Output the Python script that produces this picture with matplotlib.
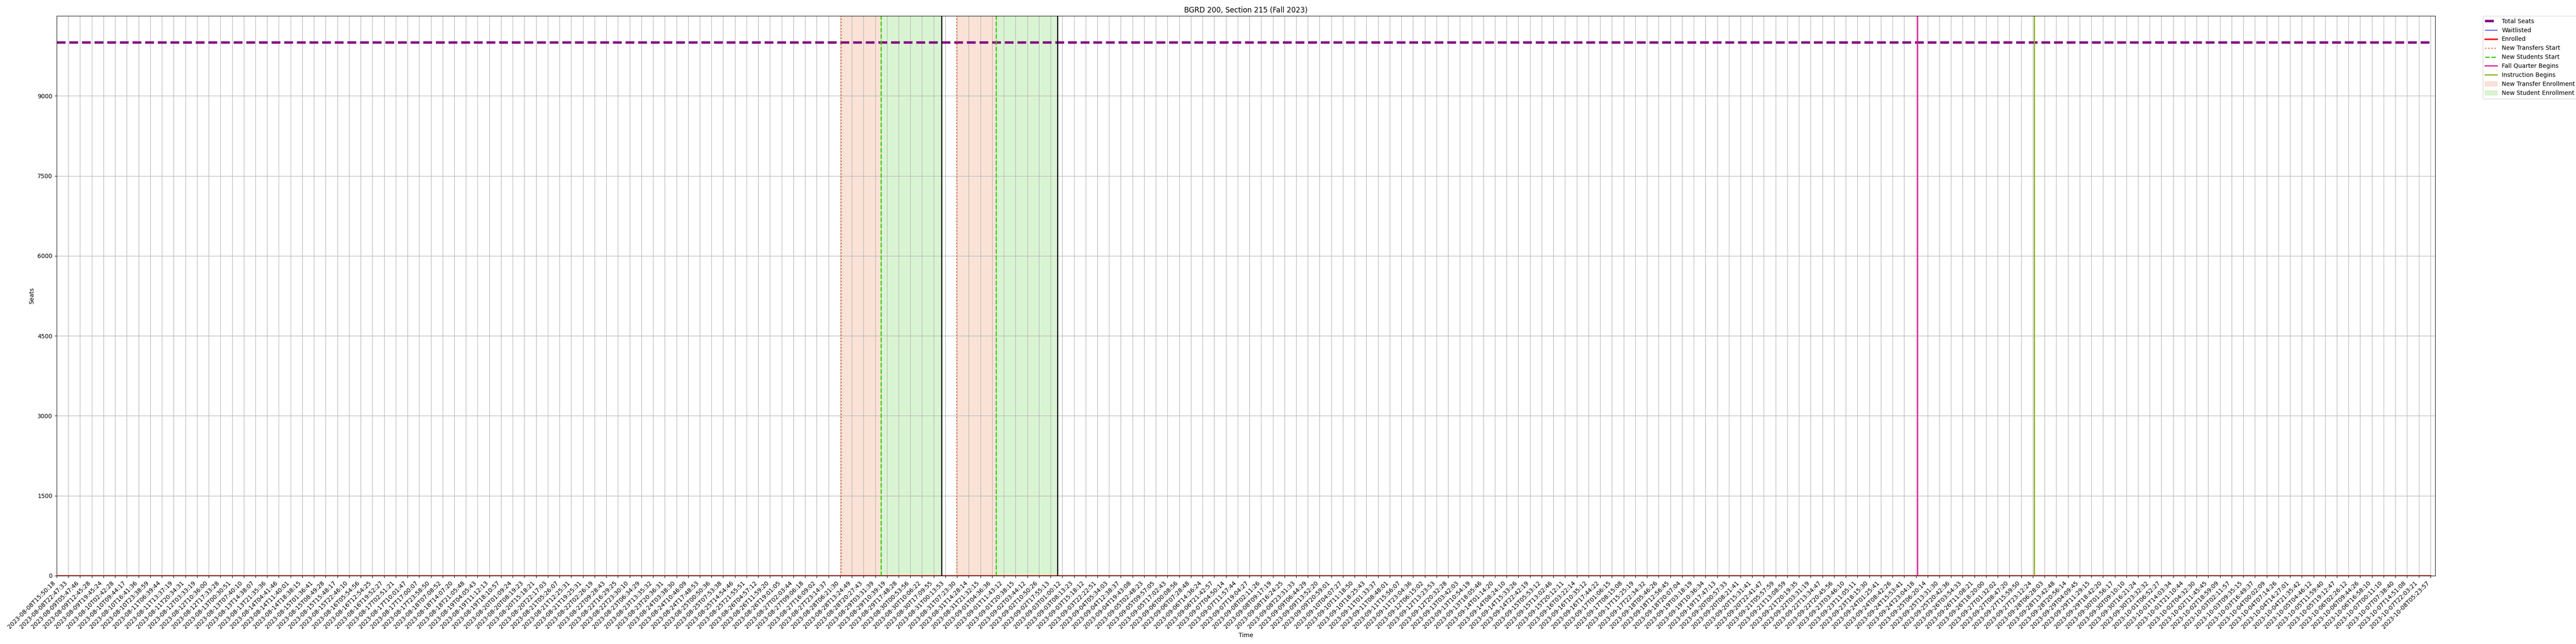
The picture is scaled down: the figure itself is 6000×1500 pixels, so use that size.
# -*- coding: utf-8 -*-

import numpy as np
import pandas as pd
import matplotlib
matplotlib.use('Agg')
import matplotlib.pyplot as plt

title = 'BGRD 200, Section 215 (Fall 2023)'

# snapshot times (one per scrape)
timestamps = [
    '2023-08-08T15:50:18', '2023-08-08T22:47:33', '2023-08-09T05:47:46', '2023-08-09T12:45:28',
    '2023-08-09T19:45:24', '2023-08-10T02:42:28', '2023-08-10T09:44:17', '2023-08-10T16:41:36',
    '2023-08-10T23:38:59', '2023-08-11T06:39:44', '2023-08-11T13:37:19', '2023-08-11T20:34:31',
    '2023-08-12T03:33:19', '2023-08-12T10:36:00', '2023-08-12T17:33:28', '2023-08-13T00:30:51',
    '2023-08-13T07:40:10', '2023-08-13T14:38:07', '2023-08-13T21:35:36', '2023-08-14T04:41:46',
    '2023-08-14T11:40:01', '2023-08-14T18:38:15', '2023-08-15T01:36:41', '2023-08-15T08:49:28',
    '2023-08-15T15:48:17', '2023-08-15T22:46:10', '2023-08-16T05:54:56', '2023-08-16T12:54:25',
    '2023-08-16T19:52:27', '2023-08-17T02:51:21', '2023-08-17T10:01:47', '2023-08-17T17:00:07',
    '2023-08-17T23:58:50', '2023-08-18T07:08:52', '2023-08-18T14:07:20', '2023-08-18T21:05:48',
    '2023-08-19T04:05:43', '2023-08-19T11:12:13', '2023-08-19T18:10:57', '2023-08-20T01:09:24',
    '2023-08-20T08:19:23', '2023-08-20T15:18:21', '2023-08-20T22:17:03', '2023-08-21T05:26:07',
    '2023-08-21T12:25:31', '2023-08-21T19:25:31', '2023-08-22T02:26:19', '2023-08-22T09:28:43',
    '2023-08-22T16:29:25', '2023-08-22T23:30:10', '2023-08-23T06:34:29', '2023-08-23T13:35:32',
    '2023-08-23T20:36:31', '2023-08-24T03:38:30', '2023-08-24T10:46:09', '2023-08-24T17:48:53',
    '2023-08-25T00:50:36', '2023-08-25T07:53:38', '2023-08-25T14:54:46', '2023-08-25T21:55:51',
    '2023-08-26T04:57:12', '2023-08-26T11:59:20', '2023-08-26T19:01:05', '2023-08-27T02:03:44',
    '2023-08-27T09:06:18', '2023-08-27T16:09:02', '2023-08-27T23:14:37', '2023-08-28T06:21:30',
    '2023-08-28T13:24:49', '2023-08-28T20:27:43', '2023-08-29T03:31:39', '2023-08-29T10:39:19',
    '2023-08-29T17:48:28', '2023-08-30T00:53:56', '2023-08-30T10:06:22', '2023-08-30T17:09:55',
    '2023-08-31T00:13:53', '2023-08-31T07:23:30', '2023-08-31T14:28:14', '2023-08-31T21:32:15',
    '2023-09-01T04:36:36', '2023-09-01T11:43:12', '2023-09-01T20:38:15', '2023-09-02T03:44:12',
    '2023-09-02T10:50:26', '2023-09-02T17:55:13', '2023-09-03T01:00:12', '2023-09-03T08:13:23',
    '2023-09-03T15:18:12', '2023-09-03T22:22:51', '2023-09-04T05:34:03', '2023-09-04T12:38:37',
    '2023-09-04T19:43:08', '2023-09-05T02:48:23', '2023-09-05T09:57:05', '2023-09-05T17:02:43',
    '2023-09-06T00:08:56', '2023-09-06T07:28:48', '2023-09-06T14:36:24', '2023-09-06T21:42:57',
    '2023-09-07T04:50:14', '2023-09-07T11:57:44', '2023-09-07T19:04:27', '2023-09-08T02:11:26',
    '2023-09-08T09:17:19', '2023-09-08T16:24:25', '2023-09-08T23:31:33', '2023-09-09T06:44:29',
    '2023-09-09T13:52:20', '2023-09-09T20:59:01', '2023-09-10T04:07:27', '2023-09-10T11:18:50',
    '2023-09-10T18:25:43', '2023-09-11T01:33:37', '2023-09-11T08:48:01', '2023-09-11T15:56:07',
    '2023-09-11T23:04:36', '2023-09-12T06:15:02', '2023-09-12T13:23:53', '2023-09-12T20:32:28',
    '2023-09-13T03:42:03', '2023-09-13T10:54:19', '2023-09-13T18:05:46', '2023-09-14T01:14:20',
    '2023-09-14T08:24:10', '2023-09-14T15:33:26', '2023-09-14T22:42:19', '2023-09-15T05:53:12',
    '2023-09-15T13:02:46', '2023-09-15T20:12:11', '2023-09-16T03:22:14', '2023-09-16T10:35:12',
    '2023-09-16T17:44:22', '2023-09-17T01:06:15', '2023-09-17T08:15:08', '2023-09-17T15:25:19',
    '2023-09-17T22:34:32', '2023-09-18T05:46:26', '2023-09-18T12:56:45', '2023-09-18T20:07:04',
    '2023-09-19T03:18:19', '2023-09-19T10:36:34', '2023-09-19T17:47:13', '2023-09-20T00:57:33',
    '2023-09-20T08:21:41', '2023-09-20T15:31:41', '2023-09-20T22:41:47', '2023-09-21T05:57:59',
    '2023-09-21T13:08:59', '2023-09-21T20:19:35', '2023-09-22T03:31:19', '2023-09-22T13:34:47',
    '2023-09-22T20:45:56', '2023-09-23T03:46:10', '2023-09-23T11:05:11', '2023-09-23T18:15:30',
    '2023-09-24T01:25:41', '2023-09-24T08:42:26', '2023-09-24T15:53:41', '2023-09-24T23:04:18',
    '2023-09-25T06:20:14', '2023-09-25T13:31:30', '2023-09-25T20:42:36', '2023-09-26T03:54:33',
    '2023-09-26T11:08:21', '2023-09-26T18:20:00', '2023-09-27T01:32:02', '2023-09-27T08:47:20',
    '2023-09-27T15:59:50', '2023-09-27T23:12:24', '2023-09-28T06:28:03', '2023-09-28T13:42:48',
    '2023-09-28T20:56:14', '2023-09-29T04:09:45', '2023-09-29T11:29:15', '2023-09-29T18:42:20',
    '2023-09-30T01:56:17', '2023-09-30T09:10:10', '2023-09-30T16:21:24', '2023-09-30T23:32:32',
    '2023-10-01T06:52:27', '2023-10-01T14:03:34', '2023-10-01T21:10:44', '2023-10-02T04:32:30',
    '2023-10-02T11:45:45', '2023-10-02T18:59:09', '2023-10-03T02:11:57', '2023-10-03T09:35:15',
    '2023-10-03T16:49:37', '2023-10-04T00:02:09', '2023-10-04T07:14:26', '2023-10-04T14:27:01',
    '2023-10-04T21:35:42', '2023-10-05T04:46:12', '2023-10-05T11:59:40', '2023-10-05T19:12:47',
    '2023-10-06T02:26:12', '2023-10-06T09:44:26', '2023-10-06T16:58:10', '2023-10-07T00:11:10',
    '2023-10-07T07:38:40', '2023-10-07T14:51:08', '2023-10-07T22:03:21', '2023-10-08T05:23:57',
]

# seat counts (flat over the whole period)
total_seats = [10000] * len(timestamps)
waitlisted = [0] * len(timestamps)
enrolled = [0] * len(timestamps)

# registration calendar
transfer_starts = ['2023-08-28T07:00:00', '2023-08-31T07:00:00']
student_starts = ['2023-08-29T07:00:00', '2023-09-01T07:00:00']
window_ends = ['2023-08-30T22:00:00', '2023-09-02T22:00:00']
fall_quarter_begins = '2023-09-25T00:00:00'
instruction_begins = '2023-09-28T00:00:00'

y_ticks = [0, 1500, 3000, 4500, 6000, 7500, 9000]

x = np.arange(len(timestamps))
snap_ns = pd.to_datetime(timestamps).asi8


def to_pos(t):
    # place an event between the snapshots around it
    return np.interp(pd.Timestamp(t).value, snap_ns, x)


fig, ax = plt.subplots(figsize=(60, 15), dpi=100)
fig.subplots_adjust(left=0.022, right=0.9453, top=0.9753, bottom=0.106)

ax.plot(x, total_seats, color='purple', linestyle='--', linewidth=4, label='Total Seats')
ax.plot(x, waitlisted, color='blue', linewidth=1, label='Waitlisted')
ax.plot(x, enrolled, color='red', linewidth=2.5, label='Enrolled')

# event lines
for i in range(len(transfer_starts)):
    first = i == 0
    ax.axvline(to_pos(transfer_starts[i]), color='#e8703a', linestyle=':', linewidth=2,
               label='New Transfers Start' if first else None)
    ax.axvline(to_pos(student_starts[i]), color='#3ccc14', linestyle='--', linewidth=2,
               label='New Students Start' if first else None)
    ax.axvline(to_pos(window_ends[i]), color='black', linewidth=1.8)

ax.axvline(to_pos(fall_quarter_begins), color='#e0189c', linewidth=2, label='Fall Quarter Begins')
ax.axvline(to_pos(instruction_begins), color='#8cb414', linewidth=2, label='Instruction Begins')

# enrollment windows
for i in range(len(transfer_starts)):
    first = i == 0
    t0 = to_pos(transfer_starts[i])
    t1 = to_pos(student_starts[i])
    t2 = to_pos(window_ends[i])
    ax.axvspan(t0, t1, color='#e8703a', alpha=0.2,
               label='New Transfer Enrollment' if first else None)
    ax.axvspan(t1, t2, color='#44cc22', alpha=0.2,
               label='New Student Enrollment' if first else None)

ax.set_xticks(x)
ax.set_xticklabels(timestamps, rotation=45, ha='right')
ax.set_yticks(y_ticks)
ax.set_xlim(0, len(timestamps) - 1 + 0.4)
ax.set_ylim(0, 10500)
ax.grid(True)

ax.set_title(title)
ax.set_xlabel('Time')
ax.set_ylabel('Seats')
ax.legend(loc='upper left', bbox_to_anchor=(1.02, 1), borderaxespad=0)

fig.savefig('out.png', dpi=100)
